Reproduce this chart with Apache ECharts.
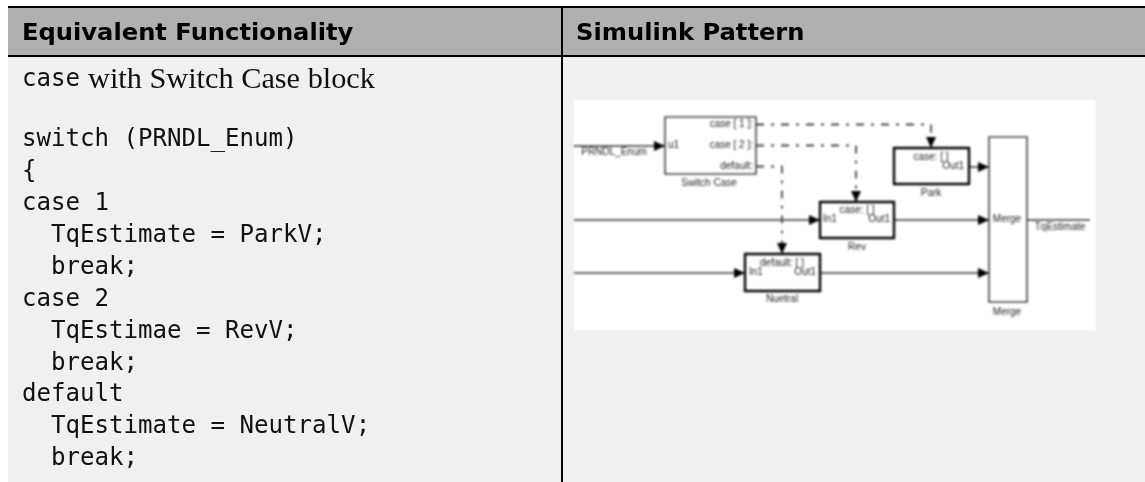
<!DOCTYPE html>
<html><head><meta charset="utf-8">
<style>html,body{margin:0;padding:0;background:#fff}#c{width:1145px;height:482px}</style>
<script src="https://cdn.jsdelivr.net/npm/echarts@6/dist/echarts.min.js"></script>
</head><body><div id="c"></div>
<script>
// ---- table content ----
const headerCells = ["Equivalent Functionality", "Simulink Pattern"];
const introCode = "case";
const introProse = "with Switch Case block";
const codeLines = ["switch (PRNDL_Enum)", "{", "case 1", "  TqEstimate = ParkV;", "  break;", "case 2",
  "  TqEstimae = RevV;", "  break;", "default", "  TqEstimate = NeutralV;", "  break;"];
// ---- diagram content, in picture coordinates ----
const plainBlocks = [[665,117,756,174],[989,137,1027,302]];
const subsystemBlocks = [[820,202,894,238],[745,254,820,291],[894,148,969,184]];
const solidWires = [[[574,146],[665,146]],[[574,220],[820,220]],[[894,220],[989,220]],[[574,273],[745,273]],
  [[820,273],[989,273]],[[969,167],[989,167]],[[1027,220],[1090,220]]];
const signalWires = [[[756,124.5],[931,124.5],[931,148]],[[756,145.5],[856,145.5],[856,202]],[[756,166.5],[782,166.5],[782,254]]];
const rightArrows = [[665,146],[820,220],[989,220],[745,273],[989,273],[989,167]];
const downArrows = [[931,148],[856,202],[782,254]];
const diagramLabels = [
  ["PRNDL_Enum",614,152,"center"],["u1",668,145,"left"],["case [ 1 ]:",753,124,"right"],["case [ 2 ]:",753,145,"right"],
  ["default:",753,166,"right"],["Switch Case",709,183,"center"],
  ["case: [ ]",857,210,"center"],["In1",823,219,"left"],["Out1",890,219,"right"],["Rev",857,247,"center"],
  ["default: [ ]",782,263,"center"],["In1",749,272,"left"],["Out1",816,272,"right"],["Nuetral",782,299,"center"],
  ["case: [ ]",931,157,"center"],["Out1",964,166,"right"],["Park",931,193,"center"],
  ["Merge",1007,219,"center"],["Merge",1007,312,"center"],["TqEstimate",1060,227,"center"]];
const diagramPanel = [[574,100,1096,330]];
const panelEdge = [[1096,100,1097,330]];
// ---- table geometry ----
const headerBand = [[8,8,1145,55]];
const bodyBand = [[8,57,1145,482]];
const ruleBands = [[8,6,1145,8],[8,55,1145,57],[561,6,563,482]];

const rects = (name, data, style, zlevel) => ({
  type:'custom', name, coordinateSystem:'cartesian2d', zlevel: zlevel||0, silent:true, data,
  encode:{x:[0,2],y:[1,3]}, clip:false,
  renderItem:(p,api)=>{
    const a=api.coord([api.value(0),api.value(1)]), b=api.coord([api.value(2),api.value(3)]);
    return {type:'rect',shape:{x:a[0],y:a[1],width:b[0]-a[0],height:b[1]-a[1]},style};
  }
});
const wires = (name, list, style) => ({
  type:'custom', name, coordinateSystem:'cartesian2d', zlevel:1, silent:true, data:list.map((w,i)=>[w[0][0],w[0][1],i]),
  renderItem:(p,api)=>{
    const w=list[api.value(2)];
    return {type:'polyline',shape:{points:w.map(q=>api.coord(q))},style:Object.assign({fill:null},style)};
  }
});
const arrows = (name, list, shapeFn) => ({
  type:'custom', name, coordinateSystem:'cartesian2d', zlevel:1, silent:true, data:list,
  renderItem:(p,api)=>{
    const t=api.coord([api.value(0),api.value(1)]);
    return {type:'polygon',shape:{points:shapeFn(t)},style:{fill:'#000'}};
  }
});
const texts = (name, data, font, fill, zlevel, scaleX) => ({
  type:'custom', name, coordinateSystem:'cartesian2d', zlevel: zlevel||0, silent:true, data,
  renderItem:(p,api)=>{
    const d=data[p.dataIndex], a=api.coord([d[1],d[2]]);
    return {type:'text',x:a[0],y:a[1],scaleX:scaleX||1,style:{text:d[0],font,fill,align:d[3]||'left',verticalAlign:'middle'}};
  }
});

const codeRows = codeLines.map((s,i)=>[s.replace(/ /g,'\u00a0'),22,140+i*31.9,'left']);
const bodyFont = '400 24.1px "DejaVu Sans Mono"';
const chart = echarts.init(document.getElementById('c'),null,{renderer:'canvas'});
chart.setOption({
  animation:false, backgroundColor:'#fff',
  grid:{left:0,right:0,top:0,bottom:0},
  xAxis:{type:'value',min:0,max:1145,show:false},
  yAxis:{type:'value',min:0,max:482,inverse:true,show:false},
  series:[
    rects('header',headerBand,{fill:'#b0b0b0'}),
    rects('body',bodyBand,{fill:'#f0f0f0'}),
    rects('rules',ruleBands,{fill:'#000'}),
    texts('headerText',[[headerCells[0],22,34,'left'],[headerCells[1],576,34,'left']],'700 22.5px "DejaVu Sans"','#000',0,1.075),
    texts('intro',[[introCode,22,80,'left']],bodyFont,'#111'),
    texts('introProse',[[introProse,88,80,'left']],'400 30.3px "Liberation Serif"','#111'),
    texts('code',codeRows,bodyFont,'#111'),
    rects('panel',diagramPanel,{fill:'#fff'},1),
    rects('panelEdge',panelEdge,{fill:'#efe9dc'},1),
    wires('solid',solidWires,{stroke:'#333',lineWidth:1.5}),
    wires('signal',signalWires,{stroke:'#444',lineWidth:1.8,lineDash:[8,7,3,7]}),
    rects('blocks',plainBlocks,{fill:'#fff',stroke:'#444',lineWidth:1.6},1),
    rects('subsystems',subsystemBlocks,{fill:'#fff',stroke:'#000',lineWidth:2.4},1),
    arrows('rightHeads',rightArrows,t=>[[t[0],t[1]],[t[0]-11,t[1]-5],[t[0]-11,t[1]+5]]),
    arrows('downHeads',downArrows,t=>[[t[0],t[1]],[t[0]-5,t[1]-11],[t[0]+5,t[1]-11]]),
    texts('diagramText',diagramLabels,'400 10px "Liberation Sans"','#222',1)
  ]
});
chart.getZr().flush();
const blurLayer = () => { const cv = chart.getDom().querySelectorAll('canvas'); if (cv.length>1) cv[1].style.filter='blur(0.8px)'; };
blurLayer(); chart.on('finished', blurLayer); setTimeout(blurLayer,0);
</script></body></html>
